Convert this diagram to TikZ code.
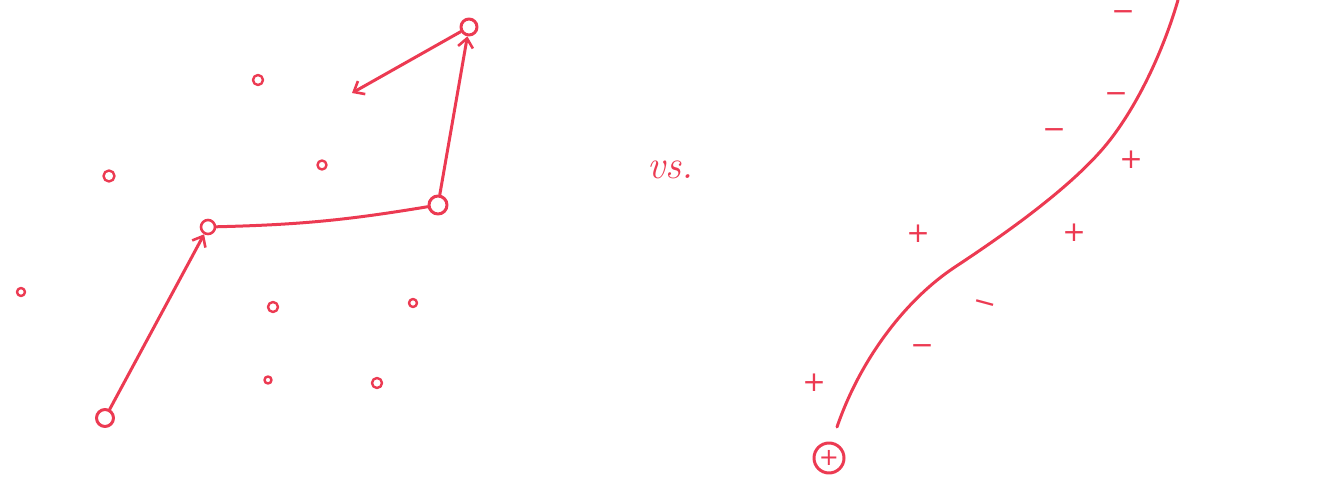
\documentclass[tikz,border=0pt]{standalone}
\usepackage{fontspec}
\newfontfamily\signfont{DejaVu Sans}
\usetikzlibrary{arrows.meta}
\definecolor{pen}{RGB}{236,58,82}
\begin{document}
\begin{tikzpicture}[x=1pt,y=-1pt,
  ink/.style={draw=pen,line width=3pt,line cap=round,line join=round},
  dotnode/.style={ink,circle,inner sep=0pt,minimum size=#1},
  arr/.style={ink,-{Straight Barb[length=9pt,width=15pt,line width=2.6pt]}},
  sign/.style={text=pen,font=\signfont\fontsize{28}{30}\selectfont,inner sep=0pt}]
\useasboundingbox (0,0) rectangle (1339,487);
% ---- left: points and a path of steps
\node[dotnode=17pt] (s) at (105,418) {};
\node[dotnode=14pt,line width=2.6pt] (a) at (208,227) {};
\node[dotnode=18pt] (b) at (438,205) {};
\node[dotnode=16pt] (t) at (469,27) {};
\coordinate (e) at (352,93);
\node[dotnode=10pt,line width=2.4pt] (p1) at (258,80) {};
\node[dotnode=11pt,line width=2.4pt] (p2) at (109,176) {};
\node[dotnode=9pt,line width=2.4pt] (p3) at (322,165) {};
\node[dotnode=8pt,line width=2.4pt] (p4) at (21,292) {};
\node[dotnode=10pt,line width=2.4pt] (p5) at (273,307) {};
\node[dotnode=8pt,line width=2.4pt] (p6) at (413,303) {};
\node[dotnode=7pt,line width=2.4pt] (p7) at (268,380) {};
\node[dotnode=10pt,line width=2.4pt] (p8) at (377,383) {};
\draw[arr] (s) -- (a);
\draw[ink] (a) to[bend right=4] (b);
\draw[arr] (b) -- (t);
\draw[arr] (t) -- (e);
% ---- middle
\node[text=pen,font=\fontsize{40}{42}\selectfont\itshape] (vs) at (670,170) {vs.};
% ---- right: a separating curve and labelled points
\node[ink,circle,inner sep=0pt,minimum size=30pt,text=pen,font=\signfont\fontsize{24}{26}\selectfont] (o) at (829,458) {+};
\coordinate (c0) at (837,427);
\coordinate (c9) at (1178,0);
\draw[ink] (c0) .. controls (860,360) and (905,300) .. (955,267)
  .. controls (1005,234) and (1075,185) .. (1110,140)
  .. controls (1141,100) and (1165,45) .. (c9);
\node[sign] (m1) at (1123,16) {−};
\node[sign] (m2) at (1116,98) {−};
\node[sign] (m3) at (1054,134) {−};
\node[sign] (q1) at (1131,160) {+};
\node[sign] (q2) at (918,234) {+};
\node[sign] (q3) at (1074,233) {+};
\node[sign,rotate=-15] (m4) at (984,307) {−};
\node[sign] (m5) at (922,350) {−};
\node[sign] (q4) at (814,383) {+};
\end{tikzpicture}
\end{document}
